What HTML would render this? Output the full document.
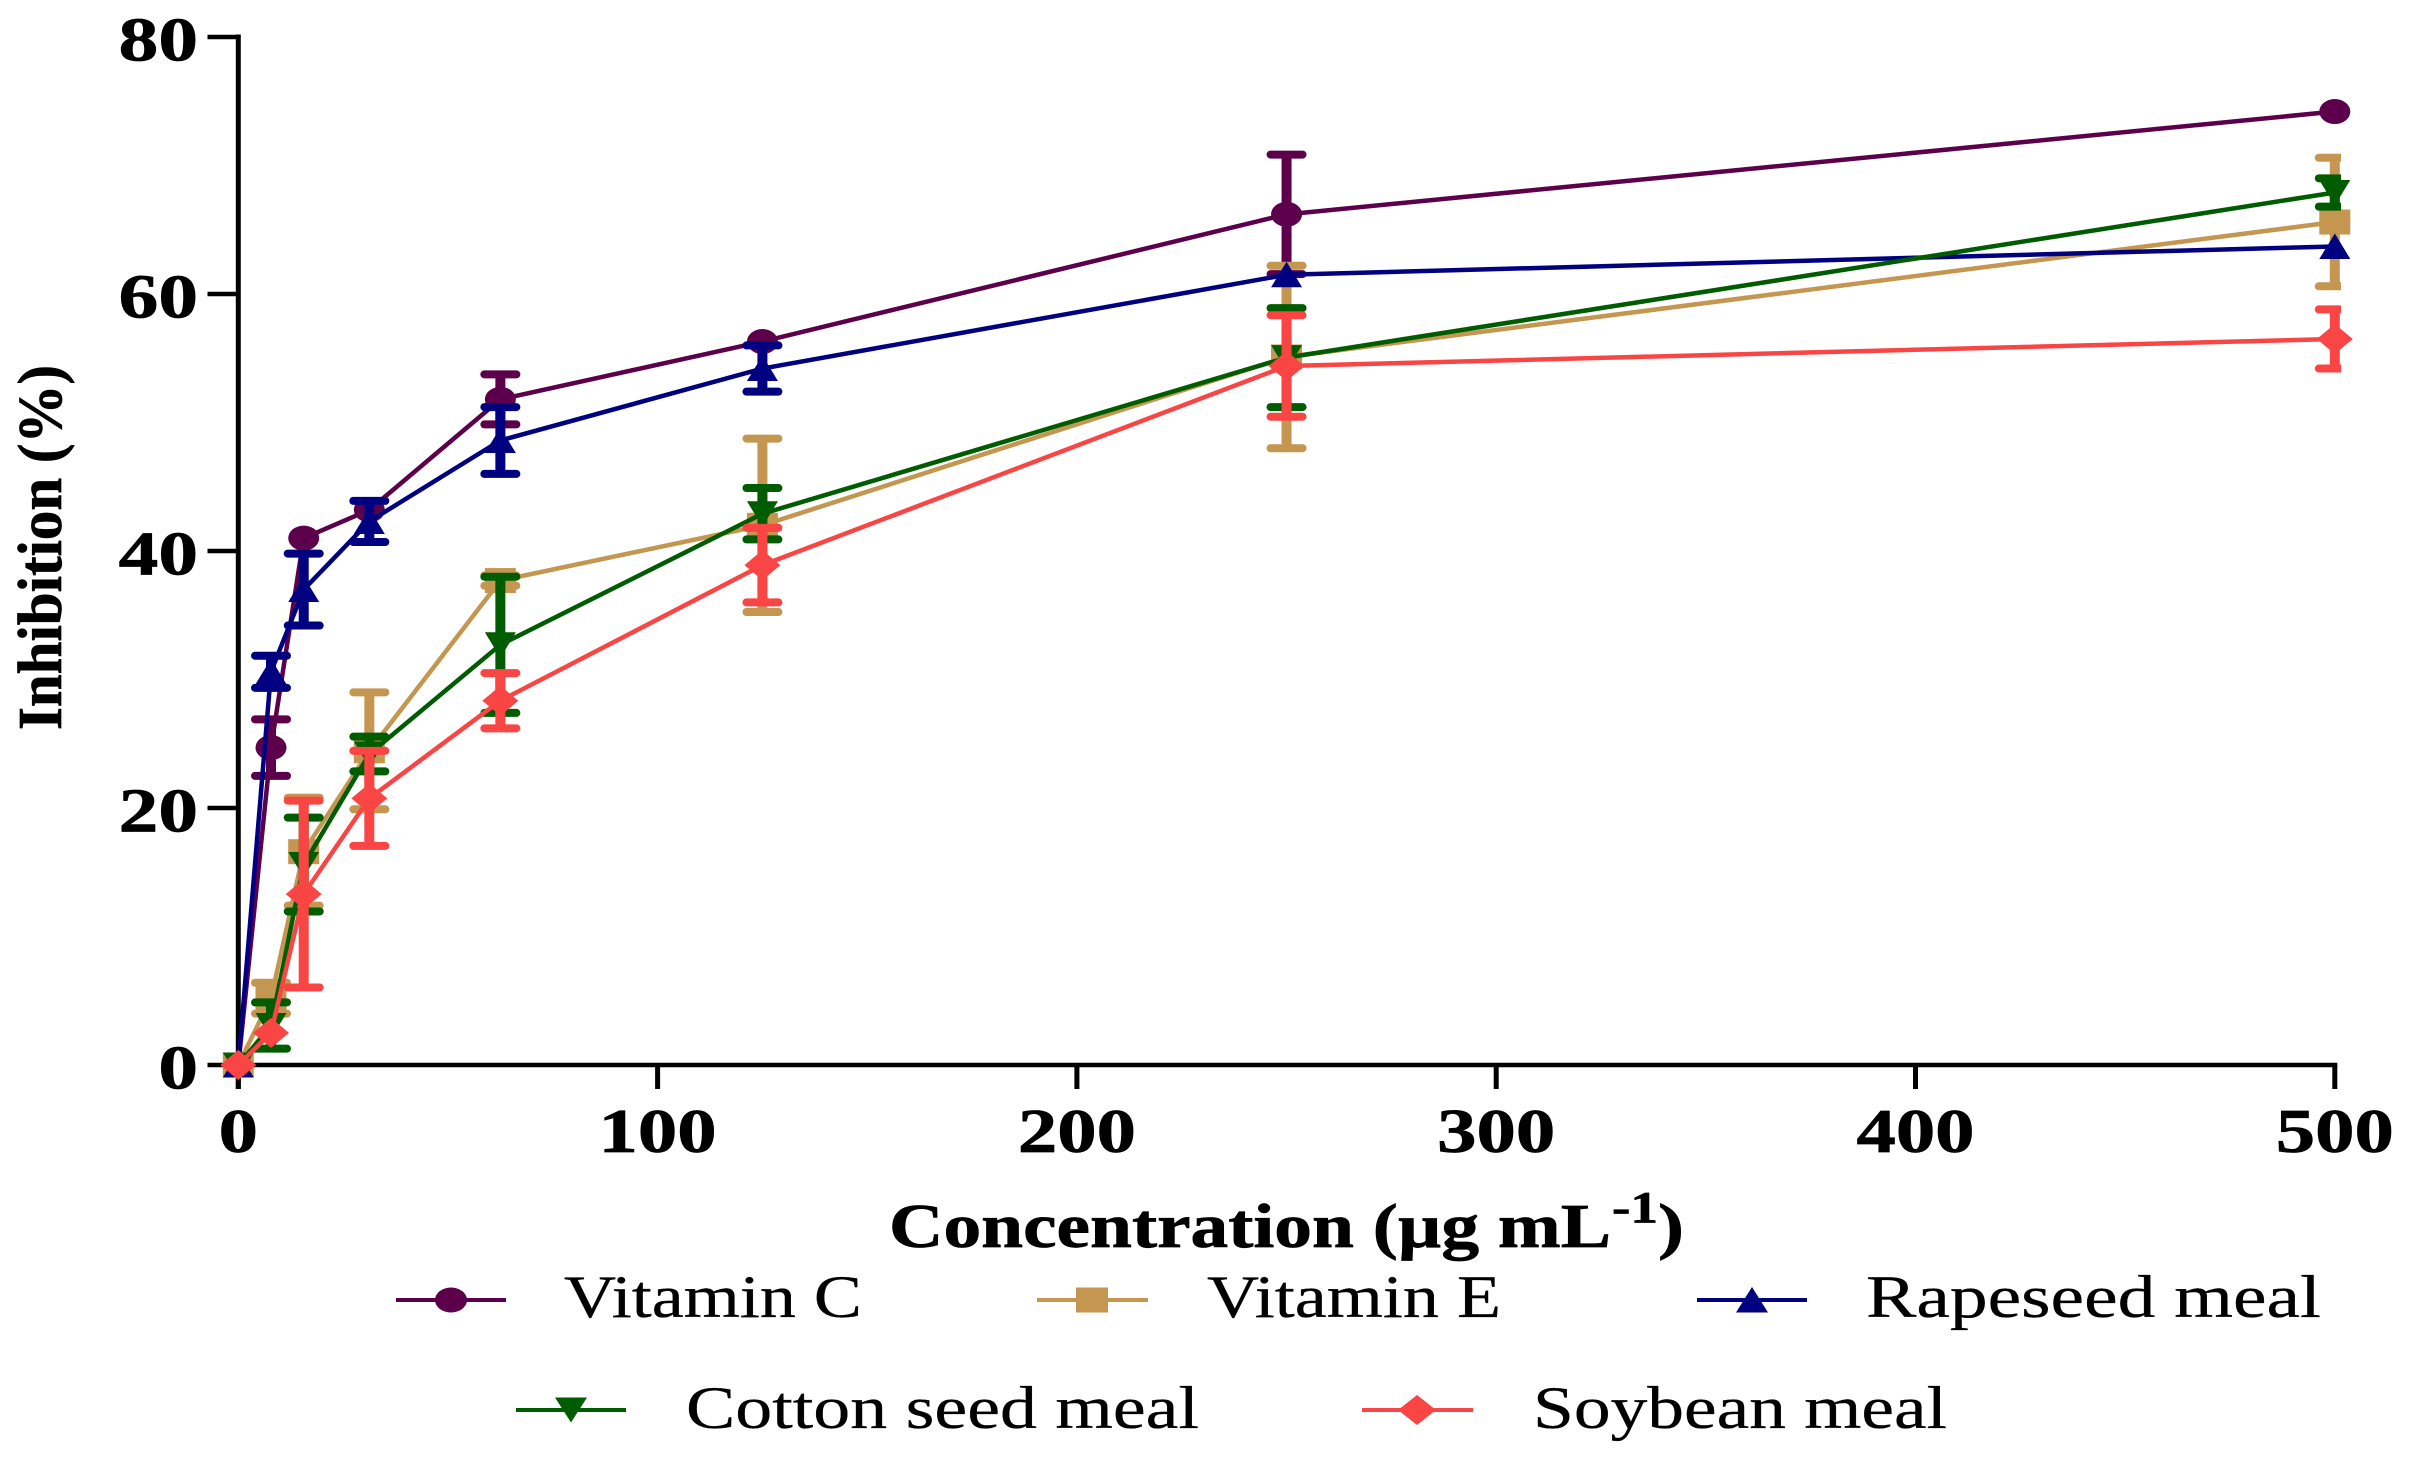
<!DOCTYPE html>
<html lang="en">
<head>
<meta charset="utf-8">
<title>Inhibition vs Concentration</title>
<style>
html,body{margin:0;padding:0;background:#fff;}
svg{display:block;}
text{font-family:"Liberation Serif",serif;fill:#000;}
.b{font-weight:bold;font-size:62px;stroke:#000;stroke-width:0.7px;}
.l{font-size:60px;stroke:#000;stroke-width:0.3px;}
</style>
</head>
<body>
<svg id="chart" xmlns="http://www.w3.org/2000/svg" width="2410" height="1461" viewBox="0 0 2410 1461">
  <defs><clipPath id="plot-clip"><rect x="0" y="0" width="2341" height="1461"/></clipPath></defs>
  <g id="axes"></g>
  <g id="series"></g>

  <text class="b" transform="translate(61,730) rotate(-90)" textLength="365" lengthAdjust="spacingAndGlyphs">Inhibition (%)</text>

  <g>
    <text class="b" x="889" y="1247" textLength="722" lengthAdjust="spacingAndGlyphs">Concentration (µg mL</text>
    <text class="b" x="1612" y="1222" style="font-size:44px" textLength="46" lengthAdjust="spacingAndGlyphs">-1</text>
    <text class="b" x="1658" y="1247" textLength="26" lengthAdjust="spacingAndGlyphs">)</text>
  </g>

  <g>
    <g>
      <line x1="396" x2="506" y1="1300" y2="1300" stroke="#5c004c" stroke-width="4"/>
      <ellipse cx="451" cy="1300" rx="16" ry="12.5" fill="#5c004c"/>
      <text class="l" x="564" y="1317" textLength="298" lengthAdjust="spacingAndGlyphs">Vitamin C</text>
    </g>
    <g>
      <line x1="1037" x2="1148" y1="1300" y2="1300" stroke="#c4964f" stroke-width="4"/>
      <rect x="1076" y="1287.5" width="32" height="25" fill="#c4964f"/>
      <text class="l" x="1207" y="1317" textLength="294" lengthAdjust="spacingAndGlyphs">Vitamin E</text>
    </g>
    <g>
      <line x1="1697" x2="1807" y1="1300" y2="1300" stroke="#000080" stroke-width="4"/>
      <polygon points="1752,1287 1768,1312.5 1736,1312.5" fill="#000080"/>
      <text class="l" x="1866" y="1317" textLength="455" lengthAdjust="spacingAndGlyphs">Rapeseed meal</text>
    </g>
    <g>
      <line x1="516" x2="626" y1="1410" y2="1410" stroke="#005c00" stroke-width="4"/>
      <polygon points="571,1422.5 555,1397.5 587,1397.5" fill="#005c00"/>
      <text class="l" x="686" y="1428" textLength="513" lengthAdjust="spacingAndGlyphs">Cotton seed meal</text>
    </g>
    <g>
      <line x1="1362" x2="1473" y1="1410" y2="1410" stroke="#fa4545" stroke-width="4"/>
      <polygon points="1417,1395 1436,1410 1417,1425 1398,1410" fill="#fa4545"/>
      <text class="l" x="1533" y="1428" textLength="414" lengthAdjust="spacingAndGlyphs">Soybean meal</text>
    </g>
  </g>
</svg>
<script>
var concentrations = [0, 7.8, 15.6, 31.25, 62.5, 125, 250, 500];
var vitaminC = [0, 24.7, 41.0, 43.2, 51.8, 56.3, 66.2, 74.2];
var vitaminCErr = [0, 2.2, 0, 0, 1.95, 0, 4.65, 0];
var vitaminE = [0, 5.2, 16.6, 24.45, 37.7, 42.0, 55.1, 65.6];
var vitaminEErr = [0, 1.2, 4.2, 4.55, 0.4, 6.75, 7.1, 5.0];
var rapeseedMeal = [0, 30.6, 37.0, 42.3, 48.6, 54.2, 61.5, 63.7];
var rapeseedMealErr = [0, 1.25, 2.8, 1.6, 2.6, 1.8, 0, 0];
var cottonSeedMeal = [0, 3.07, 15.6, 24.2, 32.7, 42.9, 55.05, 67.9];
var cottonSeedMealErr = [0, 1.8, 3.65, 1.35, 5.3, 2.0, 3.85, 1.1];
var soybeanMeal = [0, 2.5, 13.3, 20.75, 28.35, 38.9, 54.4, 56.5];
var soybeanMealErr = [0, 0, 7.27, 3.7, 2.15, 2.9, 3.95, 2.3];
var xTicks = [0, 100, 200, 300, 400, 500];
var yTicks = [0, 20, 40, 60, 80];

var NS = 'http://www.w3.org/2000/svg';
function xScale(v) { return 238.3 + v * 4.193; }
function yScale(v) { return 1065 - v * 12.85; }

function mk(parent, tag, attrs) {
  var el = document.createElementNS(NS, tag);
  for (var k in attrs) el.setAttribute(k, attrs[k]);
  parent.appendChild(el);
  return el;
}

var axes = document.getElementById('axes');
var yAxis = mk(axes, 'line', {x1: 238.3, x2: 238.3, y1: yScale(80) - 2.5, y2: 1089, stroke: '#000', 'stroke-width': 5});


var xAxis = mk(axes, 'line', {x1: 238.3, x2: xScale(500) + 2.5, y1: yScale(0), y2: yScale(0), stroke: '#000', 'stroke-width': 4.5});



yTicks.forEach(function (t) {
  var y = yScale(t);
  var tick = mk(axes, 'line', {x1: 207.5, x2: 238.3, y1: y, y2: y, stroke: '#000', 'stroke-width': 4.5});
  
  
  var lab = mk(axes, 'text', {'class': 'b', 'text-anchor': 'end', transform: 'translate(198,' + (y + 23.5) + ') scale(1.28,1)'});
  lab.textContent = String(t);
  
  
});

xTicks.forEach(function (t) {
  var x = xScale(t);
  var tick = mk(axes, 'line', {x1: x, x2: x, y1: yScale(0), y2: 1089, stroke: '#000', 'stroke-width': 5});
  
  
  var lab = mk(axes, 'text', {'class': 'b', 'text-anchor': 'middle', transform: 'translate(' + x + ',1152) scale(1.27,1)'});
  lab.textContent = String(t);
  
  
});

var seriesList = [
  {key: 'vitamin-c', values: vitaminC, errors: vitaminCErr, color: '#5c004c', marker: 'circle'},
  {key: 'vitamin-e', values: vitaminE, errors: vitaminEErr, color: '#c4964f', marker: 'square'},
  {key: 'rapeseed-meal', values: rapeseedMeal, errors: rapeseedMealErr, color: '#000080', marker: 'up'},
  {key: 'cotton-seed-meal', values: cottonSeedMeal, errors: cottonSeedMealErr, color: '#005c00', marker: 'down'},
  {key: 'soybean-meal', values: soybeanMeal, errors: soybeanMealErr, color: '#fa4545', marker: 'diamond'}
];

function drawMarker(g, kind, x, y, color) {
  if (kind === 'circle') return mk(g, 'ellipse', {cx: x, cy: y, rx: 15.5, ry: 12.5, fill: color});
  if (kind === 'square') return mk(g, 'rect', {x: x - 15.5, y: y - 12.5, width: 31, height: 25, fill: color});
  var pts;
  if (kind === 'up') pts = [[x, y - 13], [x + 15.5, y + 12.5], [x - 15.5, y + 12.5]];
  if (kind === 'down') pts = [[x, y + 13], [x + 15.5, y - 12.5], [x - 15.5, y - 12.5]];
  if (kind === 'diamond') pts = [[x, y - 15], [x + 18, y], [x, y + 15], [x - 18, y]];
  return mk(g, 'polygon', {points: pts.map(function (p) { return p.join(','); }).join(' '), fill: color});
}

var root = document.getElementById('series');
seriesList.forEach(function (s) {
  var g = mk(root, 'g', {});
  
  

  var bars = mk(g, 'g', {'clip-path': 'url(#plot-clip)'});
  
  
  s.values.forEach(function (v, i) {
    var e = s.errors[i];
    if (!e) return;
    var x = xScale(concentrations[i]);
    var top = yScale(v + e);
    var bot = yScale(v - e);
    var stem = mk(bars, 'line', {x1: x, x2: x, y1: top, y2: bot, stroke: s.color, 'stroke-width': 10});
    
    
    [top, bot].forEach(function (cy) {
      var cap = mk(bars, 'rect', {x: x - 20, y: cy - 4, width: 40, height: 8, rx: 4, ry: 4, fill: s.color});
      
      
    });
  });

  var pts = s.values.map(function (v, i) { return xScale(concentrations[i]) + ',' + yScale(v); }).join(' ');
  var line = mk(g, 'polyline', {points: pts, fill: 'none', stroke: s.color, 'stroke-width': 4.5, 'stroke-linejoin': 'round'});
  
  

  s.values.forEach(function (v, i) {
    var m = drawMarker(g, s.marker, xScale(concentrations[i]), yScale(v), s.color);
    
    
  });
});
</script>
</body>
</html>
